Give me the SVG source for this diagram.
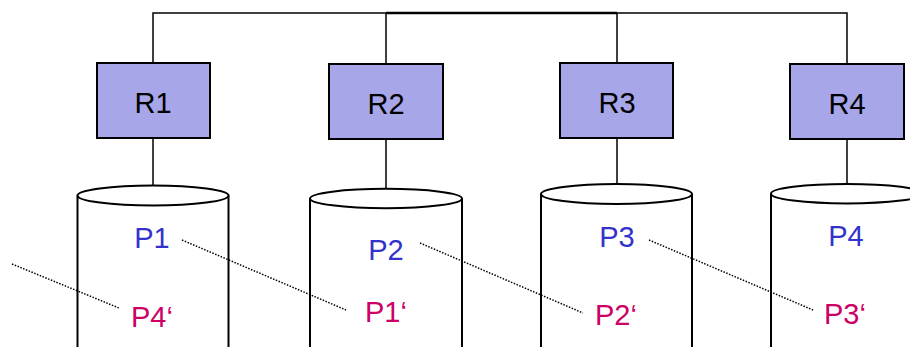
<svg xmlns="http://www.w3.org/2000/svg" width="910" height="347" viewBox="0 0 910 347">
<style>
.box{fill:#a6a6e8;stroke:#000;stroke-width:2}
.cyl{fill:#fff;stroke:#000;stroke-width:2}
.lbl{font-family:"Liberation Sans",Arial,sans-serif;font-size:29px;text-anchor:middle}
.r{fill:#000}
.p{fill:#3333cc}
.q{fill:#cc0066}
.wire{stroke:#000;stroke-width:1.5;fill:none}
.dot{stroke:#000;stroke-width:1.5;stroke-dasharray:1.5 1.5;fill:none}
</style>
<g id="connectors">
<polyline class="wire" points="153,63 153,13 386,13"/>
<line class="wire" x1="386" y1="13" x2="617" y2="13" style="stroke-width:2.5"/>
<polyline class="wire" points="617,13 847,13 847,64"/>
<line class="wire" x1="386" y1="13" x2="386" y2="64"/>
<line class="wire" x1="617" y1="13" x2="617" y2="63"/>
<line class="wire" x1="153" y1="138" x2="153" y2="186"/>
<line class="wire" x1="386" y1="139" x2="386" y2="189"/>
<line class="wire" x1="617" y1="138" x2="617" y2="184"/>
<line class="wire" x1="847" y1="139" x2="847" y2="184"/>
</g>
<g id="R1"><rect class="box" x="97" y="63" width="113" height="75"/><text class="lbl r" x="153" y="113">R1</text></g>
<g id="R2"><rect class="box" x="329" y="64" width="114" height="75"/><text class="lbl r" x="386" y="114">R2</text></g>
<g id="R3"><rect class="box" x="560" y="63" width="113" height="75"/><text class="lbl r" x="617" y="113">R3</text></g>
<g id="R4"><rect class="box" x="790" y="64" width="114" height="75"/><text class="lbl r" x="847" y="114">R4</text></g>
<g id="D1"><path class="cyl" d="M77.5,195.5 L77.5,360 L228.5,360 L228.5,195.5"/><ellipse class="cyl" cx="153" cy="195.5" rx="75.5" ry="10"/></g>
<g id="D2"><path class="cyl" d="M310,198.5 L310,360 L462,360 L462,198.5"/><ellipse class="cyl" cx="386" cy="198.5" rx="76" ry="9.7"/></g>
<g id="D3"><path class="cyl" d="M541,194 L541,360 L692,360 L692,194"/><ellipse class="cyl" cx="616.5" cy="194" rx="75.5" ry="10"/></g>
<g id="D4"><path class="cyl" d="M771,193.7 L771,360 L923,360 L923,193.7"/><ellipse class="cyl" cx="847" cy="193.7" rx="76" ry="9.7"/></g>
<g id="links">
<line class="dot" x1="12" y1="264" x2="119" y2="308"/>
<line class="dot" x1="182" y1="240" x2="346" y2="310"/>
<line class="dot" x1="420" y1="243" x2="583" y2="313"/>
<line class="dot" x1="649" y1="240" x2="813" y2="310"/>
</g>
<g id="texts">
<text class="lbl p" x="152" y="248">P1</text>
<text class="lbl p" x="386" y="260">P2</text>
<text class="lbl p" x="617" y="247">P3</text>
<text class="lbl p" x="846" y="246">P4</text>
<text class="lbl q" x="152" y="327">P4‘</text>
<text class="lbl q" x="386" y="322">P1‘</text>
<text class="lbl q" x="616" y="325">P2‘</text>
<text class="lbl q" x="845" y="324">P3‘</text>
</g>
</svg>
